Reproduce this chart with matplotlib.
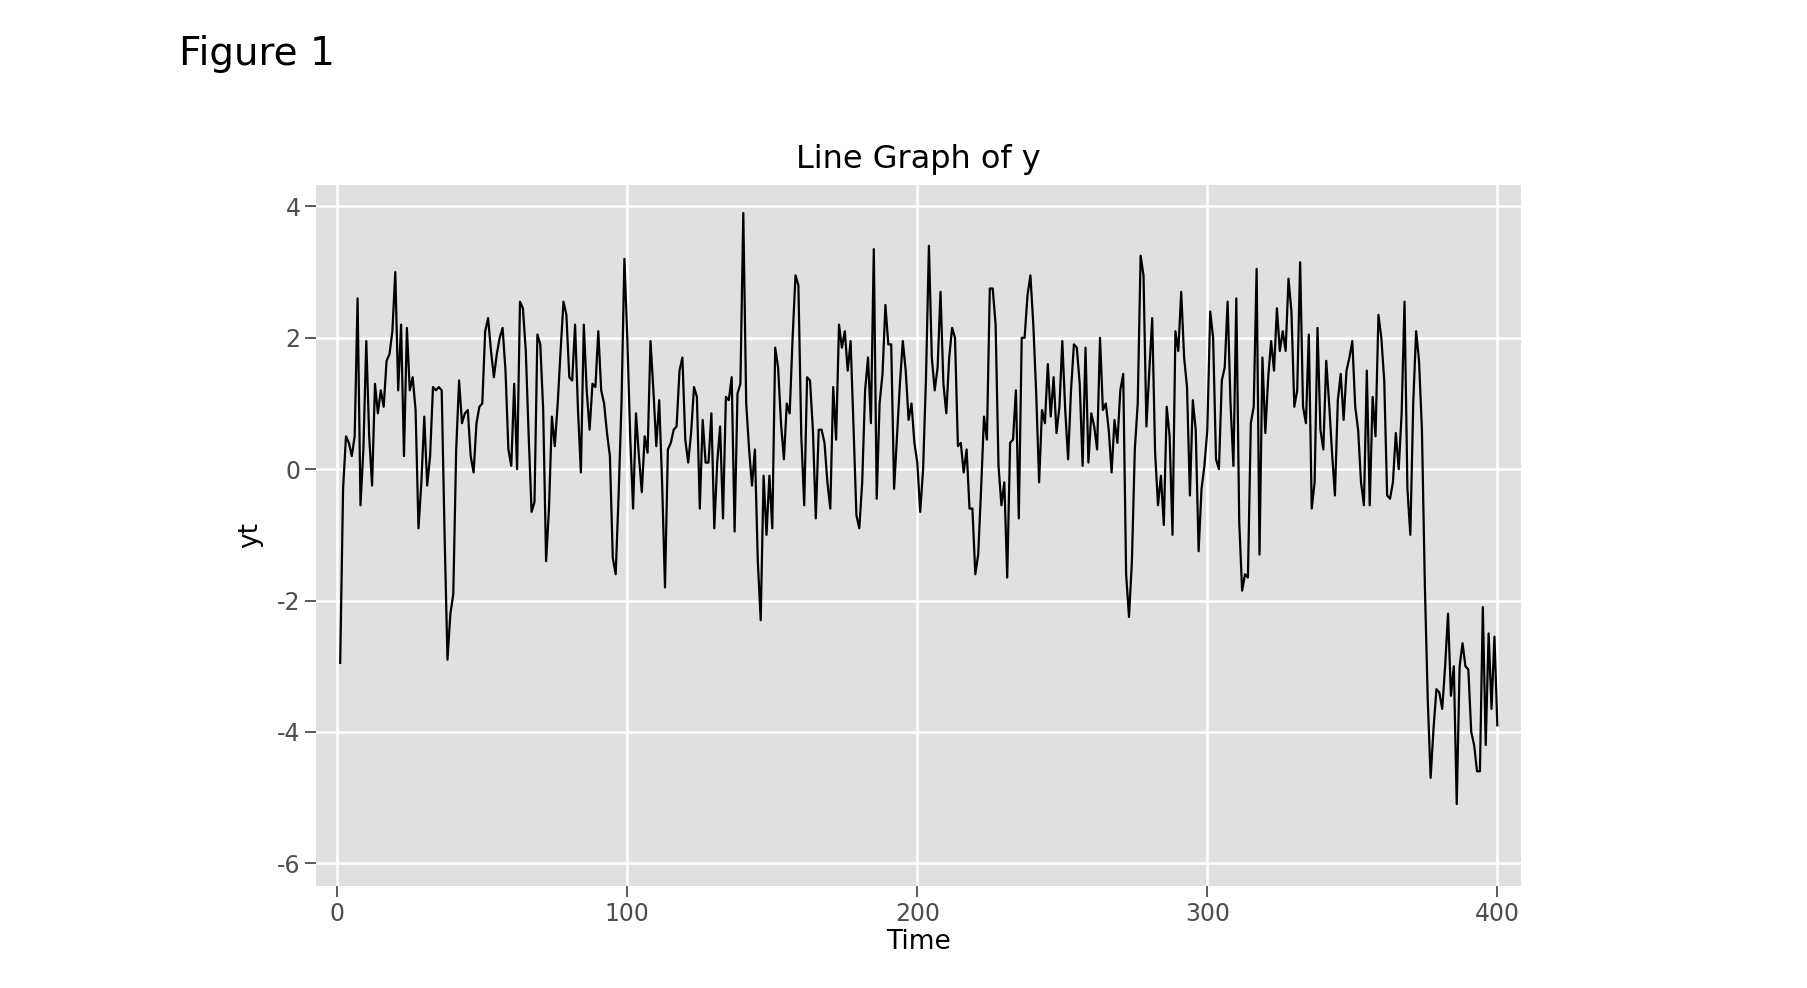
import matplotlib
matplotlib.use("Agg")
import matplotlib.pyplot as plt
import numpy as np

y = [-2.95,-0.3,0.5,0.4,0.2,0.5,2.6,-0.55,0.3,1.95,0.5,-0.25,1.3,0.85,1.2,0.95,1.65,1.75,2.1,3.0,
1.2,2.2,0.2,2.15,1.2,1.4,0.9,-0.9,-0.2,0.8,-0.25,0.2,1.25,1.2,1.25,1.2,-1.0,-2.9,-2.2,-1.9,
0.3,1.35,0.7,0.85,0.9,0.2,-0.05,0.7,0.95,1.0,2.1,2.3,1.8,1.4,1.75,2.0,2.15,1.5,0.3,0.05,
1.3,0.0,2.55,2.45,1.8,0.5,-0.65,-0.5,2.05,1.9,0.9,-1.4,-0.6,0.8,0.35,1.0,1.8,2.55,2.35,1.4,
1.35,2.2,0.9,-0.05,2.2,1.2,0.6,1.3,1.25,2.1,1.2,1.0,0.55,0.2,-1.35,-1.6,-0.4,1.0,3.2,2.0,
0.5,-0.6,0.85,0.2,-0.35,0.5,0.25,1.95,1.2,0.35,1.05,-0.2,-1.8,0.3,0.4,0.6,0.65,1.5,1.7,0.45,
0.1,0.55,1.25,1.1,-0.6,0.75,0.1,0.1,0.85,-0.9,0.1,0.65,-0.75,1.1,1.05,1.4,-0.95,1.15,1.3,3.9,
1.0,0.3,-0.25,0.3,-1.4,-2.3,-0.1,-1.0,-0.1,-0.9,1.85,1.55,0.7,0.15,1.0,0.85,2.0,2.95,2.8,0.5,
-0.55,1.4,1.35,0.6,-0.75,0.6,0.6,0.4,-0.2,-0.6,1.25,0.45,2.2,1.85,2.1,1.5,1.95,0.65,-0.7,-0.9,
-0.2,1.2,1.7,0.7,3.35,-0.45,1.0,1.45,2.5,1.9,1.9,-0.3,0.5,1.3,1.95,1.5,0.75,1.0,0.4,0.1,
-0.65,0.0,1.4,3.4,1.7,1.2,1.55,2.7,1.3,0.85,1.7,2.15,2.0,0.35,0.4,-0.05,0.3,-0.6,-0.6,-1.6,
-1.3,-0.3,0.8,0.45,2.75,2.75,2.2,0.05,-0.55,-0.2,-1.65,0.4,0.45,1.2,-0.75,2.0,2.0,2.65,2.95,2.2,
1.15,-0.2,0.9,0.7,1.6,0.8,1.4,0.55,0.95,1.95,0.9,0.15,1.2,1.9,1.85,1.3,0.05,1.85,0.1,0.85,
0.65,0.3,2.0,0.9,1.0,0.6,-0.05,0.75,0.4,1.2,1.45,-1.6,-2.25,-1.4,0.3,1.0,3.25,2.95,0.65,1.5,
2.3,0.25,-0.55,-0.1,-0.85,0.95,0.5,-1.0,2.1,1.8,2.7,1.7,1.25,-0.4,1.05,0.6,-1.25,-0.3,0.05,0.6,
2.4,2.0,0.15,0.0,1.35,1.55,2.55,1.0,0.05,2.6,-0.8,-1.85,-1.6,-1.65,0.7,0.95,3.05,-1.3,1.7,0.55,
1.4,1.95,1.5,2.45,1.8,2.1,1.8,2.9,2.4,0.95,1.2,3.15,0.95,0.7,2.05,-0.6,-0.2,2.15,0.6,0.3,
1.65,1.0,0.25,-0.4,1.05,1.45,0.75,1.5,1.7,1.95,0.95,0.6,-0.2,-0.55,1.5,-0.55,1.1,0.5,2.35,2.0,
1.35,-0.4,-0.45,-0.2,0.55,0.0,0.85,2.55,-0.3,-1.0,1.0,2.1,1.65,0.6,-1.75,-3.5,-4.7,-3.95,-3.35,-3.4,
-3.65,-3.0,-2.2,-3.45,-3.0,-5.1,-3.0,-2.65,-3.0,-3.05,-4.0,-4.2,-4.6,-4.6,-2.1,-4.2,-2.5,-3.65,-2.55,-3.9]
time = np.arange(1, len(y) + 1)
xticks = [0, 100, 200, 300, 400]
yticks = [-6, -4, -2, 0, 2, 4]

fig = plt.figure(figsize=(18.08, 9.88), dpi=100)
ax = fig.add_axes([0.175, 0.103, 0.666, 0.710])
ax.set_facecolor("#E0E0E0")
ax.plot(time, y, color="black", lw=1.6)
ax.set_xlim(-7.2, 408)
ax.set_ylim(-6.35, 4.33)
ax.set_xticks(xticks)
ax.set_yticks(yticks)
ax.set_yticklabels([str(v) for v in yticks])
ax.grid(True, color="white", lw=1.8)
ax.set_axisbelow(True)
for s in ax.spines.values():
    s.set_visible(False)
ax.tick_params(colors="#4D4D4D", labelsize=17, length=8, width=1.3, labelcolor="#4D4D4D")
ax.set_xlabel("Time", fontsize=19, labelpad=2)
ax.set_ylabel("yt", fontsize=19, labelpad=10)
ax.set_title("Line Graph of y", fontsize=23, pad=12)
fig.text(0.099, 0.945, "Figure 1", fontsize=28, ha="left", va="center")
fig.savefig("out.png", dpi=100)
